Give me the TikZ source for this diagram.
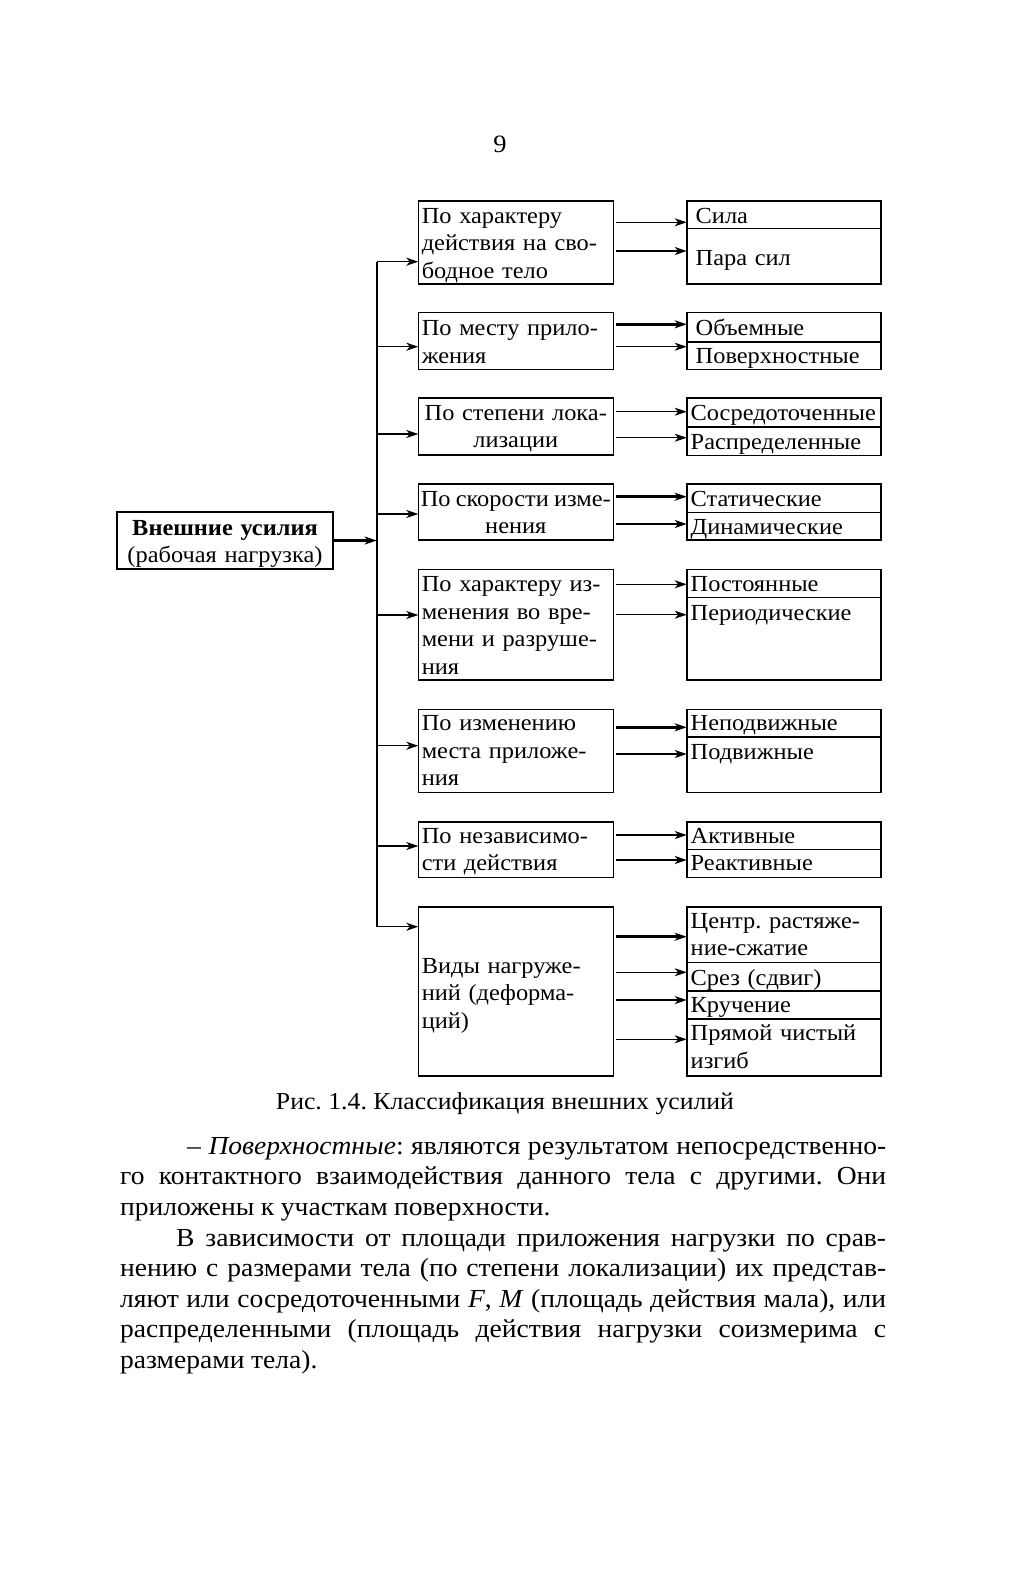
\documentclass[tikz,border=0pt]{standalone}
\usepackage{fontspec}
\setmainfont{Liberation Serif}[FakeStretch=1.06]
\usetikzlibrary{arrows.meta,positioning}
\tikzset{>={Stealth[length=12pt,width=8pt,inset=3.5pt]}}
\newcommand{\cellfont}{\fontsize{23}{27.5}\selectfont}
\newcommand{\bodyfont}{\fontsize{26}{30.6}\selectfont\spaceskip=.25em plus .3em minus .1em}
\frenchspacing

\begin{document}
\begin{tikzpicture}[x=1pt,y=-1pt,
  crit/.style={draw,line width=1.6pt,outer sep=0pt,anchor=north west,
    inner xsep=3.5pt,inner ysep=0pt,text width=188pt,align=left,font=\cellfont},
  kind/.style={crit,inner xsep=4pt,text width=186.3pt},
  kindwide/.style={kind,inner xsep=9pt,text width=176.3pt},
  link/.style={->,line width=1.3pt},
  boldlink/.style={->,line width=2.6pt},
  line/.style={anchor=base west,inner sep=0pt,font=\bodyfont}]
  \fill[white] (0,0) rectangle (1013,1582);
  \useasboundingbox (0,0) rectangle (1013,1582);

  \node[anchor=base,font=\fontsize{25}{30}\selectfont] (pnum) at (500,152) {9};

  % main box
  \node[crit,inner xsep=4pt,text width=208pt,align=center,text height=23pt,text depth=34pt]
    (load) at (117,512) {\textbf{Внешние усилия}\\(рабочая нагрузка)};

  % criteria
  \node[crit,text height=22pt,text depth=61pt] (c1) at (418.3,201)
    {По характеру\\действия на сво-\\бодное тело};
  \node[crit,text height=23.4pt,text depth=33.6pt] (c2) at (418.3,312.3)
    {По месту прило-\\жения};
  \node[crit,align=center,text height=22.3pt,text depth=35pt] (c3) at (418.3,397.7)
    {По степени лока-\\лизации};
  \node[crit,align=center,inner xsep=2.5pt,text width=190pt,text height=22pt,text depth=34pt]
    (c4) at (418.3,484)
    {{\spaceskip=.25em minus .15em\makebox[190pt][s]{По скорости изме-}}\\нения};
  \node[crit,text height=22.4pt,text depth=88.3pt] (c5) at (418.3,569.3)
    {По характеру из-\\менения во вре-\\мени и разруше-\\ния};
  \node[crit,text height=21.4pt,text depth=61.6pt] (c6) at (418.3,709.3)
    {По изменению\\места приложе-\\ния};
  \node[crit,text height=21.6pt,text depth=34pt] (c7) at (418.3,821.7)
    {По независимо-\\сти действия};
  \node[crit,text height=66.6pt,text depth=102.4pt] (c8) at (418.3,906.7)
    {Виды нагруже-\\ний (деформа-\\ций)};

  % kinds
  \node[kindwide,text height=22.3pt,text depth=5pt] (t1a) at (686.7,201) {Сила};
  \node[kindwide,below=0pt of t1a,text height=36.7pt,text depth=19pt] (t1b) {Пара сил};
  \node[kindwide,text height=22.7pt,text depth=6.7pt] (t2a) at (686.7,312.3) {Объемные};
  \node[kindwide,below=0pt of t2a,text height=22pt,text depth=5.6pt] (t2b) {Поверхностные};
  \node[kind,text height=22.3pt,text depth=7pt] (t3a) at (686.7,397.7) {Сосредоточенные};
  \node[kind,below=0pt of t3a,text height=22pt,text depth=6.3pt] (t3b) {Распределенные};
  \node[kind,text height=22pt,text depth=6.3pt] (t4a) at (686.7,484) {Статические};
  \node[kind,below=0pt of t4a,text height=22pt,text depth=5.7pt] (t4b) {Динамические};
  \node[kind,text height=22.4pt,text depth=5.6pt] (t5a) at (686.7,569.3) {Постоянные};
  \node[kind,below=0pt of t5a,text height=22.7pt,text depth=60pt] (t5b) {Периодические};
  \node[kind,text height=21.4pt,text depth=6.3pt] (t6a) at (686.7,709.3) {Неподвижные};
  \node[kind,below=0pt of t6a,text height=22pt,text depth=33.3pt] (t6b) {Подвижные};
  \node[kind,text height=21.6pt,text depth=6pt] (t7a) at (686.7,821.7) {Активные};
  \node[kind,below=0pt of t7a,text height=21.4pt,text depth=6.6pt] (t7b) {Реактивные};
  \node[kind,text height=21.6pt,text depth=34pt] (t8a) at (686.7,906.7)
    {Центр. растяже-\\ние-сжатие};
  \node[kind,below=0pt of t8a,text height=22.7pt,text depth=6pt] (t8b) {Срез (сдвиг)};
  \node[kind,below=0pt of t8b,text height=21pt,text depth=7pt] (t8c) {Кручение};
  \node[kind,below=0pt of t8c,text height=21.7pt,text depth=35pt] (t8d)
    {Прямой чистый\\изгиб};

  % bus
  \coordinate (bustop) at (376.7,261.7);
  \coordinate (busend) at (376.7,926.7);
  \draw[line width=2pt] (bustop) -- (busend);
  \draw[boldlink] (load.east) -- (bustop |- load.east);
  \foreach \i/\y/\s in {1/261.7/link,2/346.7/link,3/434/link,4/514/boldlink,
    5/615/link,6/745.7/link,7/846/link,8/926.7/link}
    \draw[\s] (bustop |- 0,\y) -- (c\i.west |- 0,\y);
  \foreach \f/\t/\y/\s in {c1/t1a/222.3/link,c1/t1b/251/link,
    c2/t2a/324.3/boldlink,c2/t2b/346.7/link,c3/t3a/411.7/link,c3/t3b/437.7/link,
    c4/t4a/496.7/boldlink,c4/t4b/524/link,c5/t5a/584.3/link,c5/t5b/614.7/link,
    c6/t6a/727.3/boldlink,c6/t6b/754/link,c7/t7a/835/link,c7/t7b/860/boldlink,
    c8/t8a/936.7/boldlink,c8/t8b/972.3/link,c8/t8c/1000/link,c8/t8d/1039.3/link}
    \draw[\s,shorten <=3pt] (\f.east |- 0,\y) -- (\t.west |- 0,\y);

  \node[anchor=base,inner sep=0pt,font=\fontsize{24.3}{28}\selectfont] (caption)
    at (505,1109) {Рис. 1.4. Классификация внешних усилий};

  % text below
  \node[line] (l1) at (187,1154) {\makebox[699pt][s]{– \textit{Поверхностные}: являются результатом непосредственно-}};
  \node[line] (l2) at (120,1184.6) {\makebox[766pt][s]{го контактного взаимодействия данного тела с другими. Они}};
  \node[line] (l3) at (120,1215.2) {приложены к участкам поверхности.};
  \node[line] (l4) at (176,1246) {\makebox[710pt][s]{В зависимости от площади приложения нагрузки по срав-}};
  \node[line] (l5) at (120,1276.6) {\makebox[766pt][s]{нению с размерами тела (по степени локализации) их представ-}};
  \node[line] (l6) at (120,1307.2) {\makebox[766pt][s]{ляют или сосредоточенными \textit{F}, \textit{M} (площадь действия мала), или}};
  \node[line] (l7) at (120,1337.8) {\makebox[766pt][s]{распределенными (площадь действия нагрузки соизмерима с}};
  \node[line] (l8) at (120,1368.4) {размерами тела).};
\end{tikzpicture}
\end{document}
